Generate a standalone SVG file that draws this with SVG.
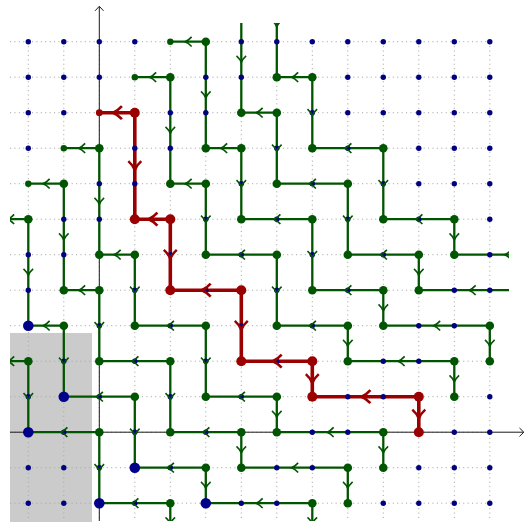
<svg xmlns="http://www.w3.org/2000/svg" width="525" height="522" viewBox="0 0 525 522">
<style>
.grid{fill:none;stroke:#a8a8a8;stroke-width:1;stroke-dasharray:1.1 3.3}
.axis{fill:none;stroke:#1a1a1a;stroke-width:1}
.e line{stroke:#005500;stroke-width:2.3}
.r line{stroke:#9b0000;stroke-width:3.6}
.ag{stroke:#005500;stroke-width:1.6;fill:none}
.ar{stroke:#9b0000;stroke-width:1.9;fill:none}
.n circle{fill:#000080}
.g{fill:#005500}
.rd{fill:#9b0000}
.b{fill:#00008b}
</style>
<defs>
<path id="ah" d="M-3.6,-4.8 Q-0.6,-1.4 3,0 Q-0.6,1.4 -3.6,4.8"/>
<clipPath id="clip"><rect x="10" y="23" width="499" height="498"/></clipPath>
</defs>
<rect x="10" y="333" width="82" height="189" fill="#cbcbcb"/>
<path class="grid" d="M10,41.7H489.8M10,77.2H489.8M10,112.7H489.8M10,148.2H489.8M10,183.7H489.8M10,219.2H489.8M10,254.7H489.8M10,290.2H489.8M10,325.7H489.8M10,361.2H489.8M10,396.7H489.8M10,432.2H489.8M10,467.7H489.8M10,503.2H489.8M28.3,41.7V521M63.8,41.7V521M99.3,41.7V521M134.8,41.7V521M170.3,41.7V521M205.8,41.7V521M241.3,41.7V521M276.8,41.7V521M312.3,41.7V521M347.8,41.7V521M383.3,41.7V521M418.8,41.7V521M454.3,41.7V521M489.8,41.7V521"/>
<g id="axes">
<path class="axis" d="M10,432.2H523.5M99.3,521V6.5"/>
<path class="axis" d="M519.5,428 L523.8,432.2 L519.5,436.4M95.1,10.8 L99.3,6.3 L103.5,10.8"/>
</g>
<g id="connectors" clip-path="url(#clip)">
<g class="e">
<line x1="205.8" y1="41.7" x2="170.3" y2="41.7"/>
<line x1="205.8" y1="41.7" x2="205.8" y2="148.2"/>
<line x1="241.3" y1="148.2" x2="205.8" y2="148.2"/>
<line x1="241.3" y1="148.2" x2="241.3" y2="219.2"/>
<line x1="312.3" y1="219.2" x2="241.3" y2="219.2"/>
<line x1="312.3" y1="219.2" x2="312.3" y2="290.2"/>
<line x1="383.3" y1="290.2" x2="312.3" y2="290.2"/>
<line x1="383.3" y1="290.2" x2="383.3" y2="325.7"/>
<line x1="489.8" y1="325.7" x2="383.3" y2="325.7"/>
<line x1="489.8" y1="325.7" x2="489.8" y2="361.2"/>
<line x1="170.3" y1="77.2" x2="134.8" y2="77.2"/>
<line x1="170.3" y1="77.2" x2="170.3" y2="183.7"/>
<line x1="205.8" y1="183.7" x2="170.3" y2="183.7"/>
<line x1="205.8" y1="183.7" x2="205.8" y2="254.7"/>
<line x1="276.8" y1="254.7" x2="205.8" y2="254.7"/>
<line x1="276.8" y1="254.7" x2="276.8" y2="325.7"/>
<line x1="347.8" y1="325.7" x2="276.8" y2="325.7"/>
<line x1="347.8" y1="325.7" x2="347.8" y2="361.2"/>
<line x1="454.3" y1="361.2" x2="347.8" y2="361.2"/>
<line x1="454.3" y1="361.2" x2="454.3" y2="396.7"/>
<line x1="99.3" y1="148.2" x2="63.8" y2="148.2"/>
<line x1="99.3" y1="148.2" x2="99.3" y2="254.7"/>
<line x1="134.8" y1="254.7" x2="99.3" y2="254.7"/>
<line x1="134.8" y1="254.7" x2="134.8" y2="325.7"/>
<line x1="205.8" y1="325.7" x2="134.8" y2="325.7"/>
<line x1="205.8" y1="325.7" x2="205.8" y2="396.7"/>
<line x1="276.8" y1="396.7" x2="205.8" y2="396.7"/>
<line x1="276.8" y1="396.7" x2="276.8" y2="432.2"/>
<line x1="383.3" y1="432.2" x2="276.8" y2="432.2"/>
<line x1="383.3" y1="432.2" x2="383.3" y2="467.7"/>
<line x1="63.8" y1="183.7" x2="28.3" y2="183.7"/>
<line x1="63.8" y1="183.7" x2="63.8" y2="290.2"/>
<line x1="99.3" y1="290.2" x2="63.8" y2="290.2"/>
<line x1="99.3" y1="290.2" x2="99.3" y2="361.2"/>
<line x1="170.3" y1="361.2" x2="99.3" y2="361.2"/>
<line x1="170.3" y1="361.2" x2="170.3" y2="432.2"/>
<line x1="241.3" y1="432.2" x2="170.3" y2="432.2"/>
<line x1="241.3" y1="432.2" x2="241.3" y2="467.7"/>
<line x1="347.8" y1="467.7" x2="241.3" y2="467.7"/>
<line x1="347.8" y1="467.7" x2="347.8" y2="503.2"/>
<line x1="28.3" y1="219.2" x2="-7.2" y2="219.2"/>
<line x1="28.3" y1="219.2" x2="28.3" y2="325.7"/>
<line x1="63.8" y1="325.7" x2="28.3" y2="325.7"/>
<line x1="63.8" y1="325.7" x2="63.8" y2="396.7"/>
<line x1="134.8" y1="396.7" x2="63.8" y2="396.7"/>
<line x1="134.8" y1="396.7" x2="134.8" y2="467.7"/>
<line x1="205.8" y1="467.7" x2="134.8" y2="467.7"/>
<line x1="205.8" y1="467.7" x2="205.8" y2="503.2"/>
<line x1="312.3" y1="503.2" x2="205.8" y2="503.2"/>
<line x1="312.3" y1="503.2" x2="312.3" y2="538.7"/>
<line x1="28.3" y1="361.2" x2="-7.2" y2="361.2"/>
<line x1="28.3" y1="361.2" x2="28.3" y2="432.2"/>
<line x1="99.3" y1="432.2" x2="28.3" y2="432.2"/>
<line x1="99.3" y1="432.2" x2="99.3" y2="503.2"/>
<line x1="170.3" y1="503.2" x2="99.3" y2="503.2"/>
<line x1="170.3" y1="503.2" x2="170.3" y2="538.7"/>
<line x1="241.3" y1="6.2" x2="241.3" y2="112.7"/>
<line x1="276.8" y1="112.7" x2="241.3" y2="112.7"/>
<line x1="276.8" y1="112.7" x2="276.8" y2="183.7"/>
<line x1="347.8" y1="183.7" x2="276.8" y2="183.7"/>
<line x1="347.8" y1="183.7" x2="347.8" y2="254.7"/>
<line x1="418.8" y1="254.7" x2="347.8" y2="254.7"/>
<line x1="418.8" y1="254.7" x2="418.8" y2="290.2"/>
<line x1="525.3" y1="290.2" x2="418.8" y2="290.2"/>
<line x1="276.8" y1="-29.3" x2="276.8" y2="77.2"/>
<line x1="312.3" y1="77.2" x2="276.8" y2="77.2"/>
<line x1="312.3" y1="77.2" x2="312.3" y2="148.2"/>
<line x1="383.3" y1="148.2" x2="312.3" y2="148.2"/>
<line x1="383.3" y1="148.2" x2="383.3" y2="219.2"/>
<line x1="454.3" y1="219.2" x2="383.3" y2="219.2"/>
<line x1="454.3" y1="219.2" x2="454.3" y2="254.7"/>
<line x1="560.8" y1="254.7" x2="454.3" y2="254.7"/>
</g>
<g class="r">
<line x1="134.8" y1="112.7" x2="99.3" y2="112.7"/>
<line x1="134.8" y1="112.7" x2="134.8" y2="219.2"/>
<line x1="170.3" y1="219.2" x2="134.8" y2="219.2"/>
<line x1="170.3" y1="219.2" x2="170.3" y2="290.2"/>
<line x1="241.3" y1="290.2" x2="170.3" y2="290.2"/>
<line x1="241.3" y1="290.2" x2="241.3" y2="361.2"/>
<line x1="312.3" y1="361.2" x2="241.3" y2="361.2"/>
<line x1="312.3" y1="361.2" x2="312.3" y2="396.7"/>
<line x1="418.8" y1="396.7" x2="312.3" y2="396.7"/>
<line x1="418.8" y1="396.7" x2="418.8" y2="432.2"/>
</g>
</g>
<g id="lattice" class="n">
<circle cx="28.3" cy="41.7" r="2.7"/><circle cx="63.8" cy="41.7" r="2.7"/><circle cx="99.3" cy="41.7" r="2.7"/><circle cx="134.8" cy="41.7" r="2.7"/><circle cx="241.3" cy="41.7" r="2.7"/><circle cx="276.8" cy="41.7" r="2.7"/><circle cx="312.3" cy="41.7" r="2.7"/><circle cx="347.8" cy="41.7" r="2.7"/><circle cx="383.3" cy="41.7" r="2.7"/><circle cx="418.8" cy="41.7" r="2.7"/><circle cx="454.3" cy="41.7" r="2.7"/><circle cx="489.8" cy="41.7" r="2.7"/>
<circle cx="28.3" cy="77.2" r="2.7"/><circle cx="63.8" cy="77.2" r="2.7"/><circle cx="99.3" cy="77.2" r="2.7"/><circle cx="205.8" cy="77.2" r="2.7"/><circle cx="241.3" cy="77.2" r="2.7"/><circle cx="347.8" cy="77.2" r="2.7"/><circle cx="383.3" cy="77.2" r="2.7"/><circle cx="418.8" cy="77.2" r="2.7"/><circle cx="454.3" cy="77.2" r="2.7"/><circle cx="489.8" cy="77.2" r="2.7"/>
<circle cx="28.3" cy="112.7" r="2.7"/><circle cx="63.8" cy="112.7" r="2.7"/><circle cx="170.3" cy="112.7" r="2.7"/><circle cx="205.8" cy="112.7" r="2.7"/><circle cx="312.3" cy="112.7" r="2.7"/><circle cx="347.8" cy="112.7" r="2.7"/><circle cx="383.3" cy="112.7" r="2.7"/><circle cx="418.8" cy="112.7" r="2.7"/><circle cx="454.3" cy="112.7" r="2.7"/><circle cx="489.8" cy="112.7" r="2.7"/>
<circle cx="28.3" cy="148.2" r="2.7"/><circle cx="134.8" cy="148.2" r="2.7"/><circle cx="170.3" cy="148.2" r="2.7"/><circle cx="276.8" cy="148.2" r="2.7"/><circle cx="347.8" cy="148.2" r="2.7"/><circle cx="418.8" cy="148.2" r="2.7"/><circle cx="454.3" cy="148.2" r="2.7"/><circle cx="489.8" cy="148.2" r="2.7"/>
<circle cx="99.3" cy="183.7" r="2.7"/><circle cx="134.8" cy="183.7" r="2.7"/><circle cx="241.3" cy="183.7" r="2.7"/><circle cx="312.3" cy="183.7" r="2.7"/><circle cx="383.3" cy="183.7" r="2.7"/><circle cx="418.8" cy="183.7" r="2.7"/><circle cx="454.3" cy="183.7" r="2.7"/><circle cx="489.8" cy="183.7" r="2.7"/>
<circle cx="63.8" cy="219.2" r="2.7"/><circle cx="99.3" cy="219.2" r="2.7"/><circle cx="205.8" cy="219.2" r="2.7"/><circle cx="276.8" cy="219.2" r="2.7"/><circle cx="347.8" cy="219.2" r="2.7"/><circle cx="418.8" cy="219.2" r="2.7"/><circle cx="489.8" cy="219.2" r="2.7"/>
<circle cx="28.3" cy="254.7" r="2.7"/><circle cx="63.8" cy="254.7" r="2.7"/><circle cx="170.3" cy="254.7" r="2.7"/><circle cx="241.3" cy="254.7" r="2.7"/><circle cx="312.3" cy="254.7" r="2.7"/><circle cx="383.3" cy="254.7" r="2.7"/><circle cx="489.8" cy="254.7" r="2.7"/>
<circle cx="28.3" cy="290.2" r="2.7"/><circle cx="134.8" cy="290.2" r="2.7"/><circle cx="205.8" cy="290.2" r="2.7"/><circle cx="276.8" cy="290.2" r="2.7"/><circle cx="347.8" cy="290.2" r="2.7"/><circle cx="454.3" cy="290.2" r="2.7"/><circle cx="489.8" cy="290.2" r="2.7"/>
<circle cx="99.3" cy="325.7" r="2.7"/><circle cx="170.3" cy="325.7" r="2.7"/><circle cx="241.3" cy="325.7" r="2.7"/><circle cx="312.3" cy="325.7" r="2.7"/><circle cx="418.8" cy="325.7" r="2.7"/><circle cx="454.3" cy="325.7" r="2.7"/>
<circle cx="63.8" cy="361.2" r="2.7"/><circle cx="134.8" cy="361.2" r="2.7"/><circle cx="205.8" cy="361.2" r="2.7"/><circle cx="276.8" cy="361.2" r="2.7"/><circle cx="383.3" cy="361.2" r="2.7"/><circle cx="418.8" cy="361.2" r="2.7"/>
<circle cx="28.3" cy="396.7" r="2.7"/><circle cx="99.3" cy="396.7" r="2.7"/><circle cx="170.3" cy="396.7" r="2.7"/><circle cx="241.3" cy="396.7" r="2.7"/><circle cx="347.8" cy="396.7" r="2.7"/><circle cx="383.3" cy="396.7" r="2.7"/><circle cx="489.8" cy="396.7" r="2.7"/>
<circle cx="63.8" cy="432.2" r="2.7"/><circle cx="134.8" cy="432.2" r="2.7"/><circle cx="205.8" cy="432.2" r="2.7"/><circle cx="312.3" cy="432.2" r="2.7"/><circle cx="347.8" cy="432.2" r="2.7"/><circle cx="454.3" cy="432.2" r="2.7"/><circle cx="489.8" cy="432.2" r="2.7"/>
<circle cx="28.3" cy="467.7" r="2.7"/><circle cx="63.8" cy="467.7" r="2.7"/><circle cx="99.3" cy="467.7" r="2.7"/><circle cx="170.3" cy="467.7" r="2.7"/><circle cx="276.8" cy="467.7" r="2.7"/><circle cx="312.3" cy="467.7" r="2.7"/><circle cx="418.8" cy="467.7" r="2.7"/><circle cx="454.3" cy="467.7" r="2.7"/><circle cx="489.8" cy="467.7" r="2.7"/>
<circle cx="28.3" cy="503.2" r="2.7"/><circle cx="63.8" cy="503.2" r="2.7"/><circle cx="134.8" cy="503.2" r="2.7"/><circle cx="241.3" cy="503.2" r="2.7"/><circle cx="276.8" cy="503.2" r="2.7"/><circle cx="383.3" cy="503.2" r="2.7"/><circle cx="418.8" cy="503.2" r="2.7"/><circle cx="454.3" cy="503.2" r="2.7"/><circle cx="489.8" cy="503.2" r="2.7"/>
</g>
<g id="arrows" clip-path="url(#clip)">
<g class="ag">
<use href="#ah" transform="translate(188.05,41.7) rotate(180)"/>
<use href="#ah" transform="translate(223.55,148.2) rotate(180)"/>
<use href="#ah" transform="translate(276.8,219.2) rotate(180)"/>
<use href="#ah" transform="translate(347.8,290.2) rotate(180)"/>
<use href="#ah" transform="translate(436.55,325.7) rotate(180)"/>
<use href="#ah" transform="translate(152.55,77.2) rotate(180)"/>
<use href="#ah" transform="translate(188.05,183.7) rotate(180)"/>
<use href="#ah" transform="translate(241.3,254.7) rotate(180)"/>
<use href="#ah" transform="translate(312.3,325.7) rotate(180)"/>
<use href="#ah" transform="translate(401.05,361.2) rotate(180)"/>
<use href="#ah" transform="translate(81.55,148.2) rotate(180)"/>
<use href="#ah" transform="translate(117.05,254.7) rotate(180)"/>
<use href="#ah" transform="translate(170.3,325.7) rotate(180)"/>
<use href="#ah" transform="translate(241.3,396.7) rotate(180)"/>
<use href="#ah" transform="translate(330.05,432.2) rotate(180)"/>
<use href="#ah" transform="translate(46.05,183.7) rotate(180)"/>
<use href="#ah" transform="translate(81.55,290.2) rotate(180)"/>
<use href="#ah" transform="translate(134.8,361.2) rotate(180)"/>
<use href="#ah" transform="translate(205.8,432.2) rotate(180)"/>
<use href="#ah" transform="translate(294.55,467.7) rotate(180)"/>
<use href="#ah" transform="translate(10.55,219.2) rotate(180)"/>
<use href="#ah" transform="translate(46.05,325.7) rotate(180)"/>
<use href="#ah" transform="translate(99.3,396.7) rotate(180)"/>
<use href="#ah" transform="translate(170.3,467.7) rotate(180)"/>
<use href="#ah" transform="translate(259.05,503.2) rotate(180)"/>
<use href="#ah" transform="translate(10.55,361.2) rotate(180)"/>
<use href="#ah" transform="translate(63.8,432.2) rotate(180)"/>
<use href="#ah" transform="translate(134.8,503.2) rotate(180)"/>
<use href="#ah" transform="translate(259.05,112.7) rotate(180)"/>
<use href="#ah" transform="translate(312.3,183.7) rotate(180)"/>
<use href="#ah" transform="translate(383.3,254.7) rotate(180)"/>
<use href="#ah" transform="translate(472.05,290.2) rotate(180)"/>
<use href="#ah" transform="translate(294.55,77.2) rotate(180)"/>
<use href="#ah" transform="translate(347.8,148.2) rotate(180)"/>
<use href="#ah" transform="translate(418.8,219.2) rotate(180)"/>
<use href="#ah" transform="translate(507.55,254.7) rotate(180)"/>
<use href="#ah" transform="translate(205.8,94.95) rotate(90)"/>
<use href="#ah" transform="translate(241.3,183.7) rotate(90)"/>
<use href="#ah" transform="translate(312.3,254.7) rotate(90)"/>
<use href="#ah" transform="translate(383.3,307.95) rotate(90)"/>
<use href="#ah" transform="translate(489.8,343.45) rotate(90)"/>
<use href="#ah" transform="translate(170.3,130.45) rotate(90)"/>
<use href="#ah" transform="translate(205.8,219.2) rotate(90)"/>
<use href="#ah" transform="translate(276.8,290.2) rotate(90)"/>
<use href="#ah" transform="translate(347.8,343.45) rotate(90)"/>
<use href="#ah" transform="translate(454.3,378.95) rotate(90)"/>
<use href="#ah" transform="translate(99.3,201.45) rotate(90)"/>
<use href="#ah" transform="translate(134.8,290.2) rotate(90)"/>
<use href="#ah" transform="translate(205.8,361.2) rotate(90)"/>
<use href="#ah" transform="translate(276.8,414.45) rotate(90)"/>
<use href="#ah" transform="translate(383.3,449.95) rotate(90)"/>
<use href="#ah" transform="translate(63.8,236.95) rotate(90)"/>
<use href="#ah" transform="translate(99.3,325.7) rotate(90)"/>
<use href="#ah" transform="translate(170.3,396.7) rotate(90)"/>
<use href="#ah" transform="translate(241.3,449.95) rotate(90)"/>
<use href="#ah" transform="translate(347.8,485.45) rotate(90)"/>
<use href="#ah" transform="translate(28.3,272.45) rotate(90)"/>
<use href="#ah" transform="translate(63.8,361.2) rotate(90)"/>
<use href="#ah" transform="translate(134.8,432.2) rotate(90)"/>
<use href="#ah" transform="translate(205.8,485.45) rotate(90)"/>
<use href="#ah" transform="translate(312.3,520.95) rotate(90)"/>
<use href="#ah" transform="translate(28.3,396.7) rotate(90)"/>
<use href="#ah" transform="translate(99.3,467.7) rotate(90)"/>
<use href="#ah" transform="translate(170.3,520.95) rotate(90)"/>
<use href="#ah" transform="translate(241.3,59.45) rotate(90)"/>
<use href="#ah" transform="translate(276.8,148.2) rotate(90)"/>
<use href="#ah" transform="translate(347.8,219.2) rotate(90)"/>
<use href="#ah" transform="translate(418.8,272.45) rotate(90)"/>
<use href="#ah" transform="translate(276.8,23.95) rotate(90)"/>
<use href="#ah" transform="translate(312.3,112.7) rotate(90)"/>
<use href="#ah" transform="translate(383.3,183.7) rotate(90)"/>
<use href="#ah" transform="translate(454.3,236.95) rotate(90)"/>
</g>
<g class="ar">
<use href="#ah" transform="translate(117.05,112.7) rotate(180) scale(1.35)"/>
<use href="#ah" transform="translate(152.55,219.2) rotate(180) scale(1.35)"/>
<use href="#ah" transform="translate(205.8,290.2) rotate(180) scale(1.35)"/>
<use href="#ah" transform="translate(276.8,361.2) rotate(180) scale(1.35)"/>
<use href="#ah" transform="translate(365.55,396.7) rotate(180) scale(1.35)"/>
<use href="#ah" transform="translate(134.8,165.95) rotate(90) scale(1.35)"/>
<use href="#ah" transform="translate(170.3,254.7) rotate(90) scale(1.35)"/>
<use href="#ah" transform="translate(241.3,325.7) rotate(90) scale(1.35)"/>
<use href="#ah" transform="translate(312.3,378.95) rotate(90) scale(1.35)"/>
<use href="#ah" transform="translate(418.8,414.45) rotate(90) scale(1.35)"/>
</g>
</g>
<g id="nodes">
<g id="n4-0"><circle class="g" cx="170.3" cy="41.7" r="3.2"/></g>
<g id="n3-1"><circle class="g" cx="134.8" cy="77.2" r="3.2"/></g>
<g id="n2-2"><circle class="rd" cx="99.3" cy="112.7" r="3.4"/></g>
<g id="n1-3"><circle class="g" cx="63.8" cy="148.2" r="3.2"/></g>
<g id="n0-4"><circle class="g" cx="28.3" cy="183.7" r="3.2"/></g>
<g id="n5-0"><circle class="g" cx="205.8" cy="41.7" r="4.3"/></g>
<g id="n5-3"><circle class="g" cx="205.8" cy="148.2" r="4.3"/></g>
<g id="n6-3"><circle class="g" cx="241.3" cy="148.2" r="4.3"/></g>
<g id="n6-5"><circle class="g" cx="241.3" cy="219.2" r="4.3"/></g>
<g id="n8-5"><circle class="g" cx="312.3" cy="219.2" r="4.3"/></g>
<g id="n8-7"><circle class="g" cx="312.3" cy="290.2" r="4.3"/></g>
<g id="n10-7"><circle class="g" cx="383.3" cy="290.2" r="4.3"/></g>
<g id="n10-8"><circle class="g" cx="383.3" cy="325.7" r="4.3"/></g>
<g id="n13-8"><circle class="g" cx="489.8" cy="325.7" r="4.3"/></g>
<g id="n13-9"><circle class="g" cx="489.8" cy="361.2" r="4.3"/></g>
<g id="n4-1"><circle class="g" cx="170.3" cy="77.2" r="4.3"/></g>
<g id="n4-4"><circle class="g" cx="170.3" cy="183.7" r="4.3"/></g>
<g id="n5-4"><circle class="g" cx="205.8" cy="183.7" r="4.3"/></g>
<g id="n5-6"><circle class="g" cx="205.8" cy="254.7" r="4.3"/></g>
<g id="n7-6"><circle class="g" cx="276.8" cy="254.7" r="4.3"/></g>
<g id="n7-8"><circle class="g" cx="276.8" cy="325.7" r="4.3"/></g>
<g id="n9-8"><circle class="g" cx="347.8" cy="325.7" r="4.3"/></g>
<g id="n9-9"><circle class="g" cx="347.8" cy="361.2" r="4.3"/></g>
<g id="n12-9"><circle class="g" cx="454.3" cy="361.2" r="4.3"/></g>
<g id="n12-10"><circle class="g" cx="454.3" cy="396.7" r="4.3"/></g>
<g id="n2-3"><circle class="g" cx="99.3" cy="148.2" r="4.3"/></g>
<g id="n2-6"><circle class="g" cx="99.3" cy="254.7" r="4.3"/></g>
<g id="n3-6"><circle class="g" cx="134.8" cy="254.7" r="4.3"/></g>
<g id="n3-8"><circle class="g" cx="134.8" cy="325.7" r="4.3"/></g>
<g id="n5-8"><circle class="g" cx="205.8" cy="325.7" r="4.3"/></g>
<g id="n5-10"><circle class="g" cx="205.8" cy="396.7" r="4.3"/></g>
<g id="n7-10"><circle class="g" cx="276.8" cy="396.7" r="4.3"/></g>
<g id="n7-11"><circle class="g" cx="276.8" cy="432.2" r="4.3"/></g>
<g id="n10-11"><circle class="g" cx="383.3" cy="432.2" r="4.3"/></g>
<g id="n10-12"><circle class="g" cx="383.3" cy="467.7" r="4.3"/></g>
<g id="n1-4"><circle class="g" cx="63.8" cy="183.7" r="4.3"/></g>
<g id="n1-7"><circle class="g" cx="63.8" cy="290.2" r="4.3"/></g>
<g id="n2-7"><circle class="g" cx="99.3" cy="290.2" r="4.3"/></g>
<g id="n2-9"><circle class="g" cx="99.3" cy="361.2" r="4.3"/></g>
<g id="n4-9"><circle class="g" cx="170.3" cy="361.2" r="4.3"/></g>
<g id="n4-11"><circle class="g" cx="170.3" cy="432.2" r="4.3"/></g>
<g id="n6-11"><circle class="g" cx="241.3" cy="432.2" r="4.3"/></g>
<g id="n6-12"><circle class="g" cx="241.3" cy="467.7" r="4.3"/></g>
<g id="n9-12"><circle class="g" cx="347.8" cy="467.7" r="4.3"/></g>
<g id="n9-13"><circle class="g" cx="347.8" cy="503.2" r="4.3"/></g>
<g id="n0-5"><circle class="g" cx="28.3" cy="219.2" r="4.3"/></g>
<g id="n1-8"><circle class="g" cx="63.8" cy="325.7" r="4.3"/></g>
<g id="n3-10"><circle class="g" cx="134.8" cy="396.7" r="4.3"/></g>
<g id="n5-12"><circle class="g" cx="205.8" cy="467.7" r="4.3"/></g>
<g id="n8-13"><circle class="g" cx="312.3" cy="503.2" r="4.3"/></g>
<g id="n0-9"><circle class="g" cx="28.3" cy="361.2" r="4.3"/></g>
<g id="n2-11"><circle class="g" cx="99.3" cy="432.2" r="4.3"/></g>
<g id="n4-13"><circle class="g" cx="170.3" cy="503.2" r="4.3"/></g>
<g id="n6-2"><circle class="g" cx="241.3" cy="112.7" r="4.3"/></g>
<g id="n7-2"><circle class="g" cx="276.8" cy="112.7" r="4.3"/></g>
<g id="n7-4"><circle class="g" cx="276.8" cy="183.7" r="4.3"/></g>
<g id="n9-4"><circle class="g" cx="347.8" cy="183.7" r="4.3"/></g>
<g id="n9-6"><circle class="g" cx="347.8" cy="254.7" r="4.3"/></g>
<g id="n11-6"><circle class="g" cx="418.8" cy="254.7" r="4.3"/></g>
<g id="n11-7"><circle class="g" cx="418.8" cy="290.2" r="4.3"/></g>
<g id="n7-1"><circle class="g" cx="276.8" cy="77.2" r="4.3"/></g>
<g id="n8-1"><circle class="g" cx="312.3" cy="77.2" r="4.3"/></g>
<g id="n8-3"><circle class="g" cx="312.3" cy="148.2" r="4.3"/></g>
<g id="n10-3"><circle class="g" cx="383.3" cy="148.2" r="4.3"/></g>
<g id="n10-5"><circle class="g" cx="383.3" cy="219.2" r="4.3"/></g>
<g id="n12-5"><circle class="g" cx="454.3" cy="219.2" r="4.3"/></g>
<g id="n12-6"><circle class="g" cx="454.3" cy="254.7" r="4.3"/></g>
<g id="n3-2"><circle class="rd" cx="134.8" cy="112.7" r="5"/></g>
<g id="n3-5"><circle class="rd" cx="134.8" cy="219.2" r="5"/></g>
<g id="n4-5"><circle class="rd" cx="170.3" cy="219.2" r="5"/></g>
<g id="n4-7"><circle class="rd" cx="170.3" cy="290.2" r="5"/></g>
<g id="n6-7"><circle class="rd" cx="241.3" cy="290.2" r="5"/></g>
<g id="n6-9"><circle class="rd" cx="241.3" cy="361.2" r="5"/></g>
<g id="n8-9"><circle class="rd" cx="312.3" cy="361.2" r="5"/></g>
<g id="n8-10"><circle class="rd" cx="312.3" cy="396.7" r="5"/></g>
<g id="n11-10"><circle class="rd" cx="418.8" cy="396.7" r="5"/></g>
<g id="n11-11"><circle class="rd" cx="418.8" cy="432.2" r="5"/></g>
<g id="n0-8"><circle class="b" cx="28.3" cy="325.7" r="5.3"/></g>
<g id="n1-10"><circle class="b" cx="63.8" cy="396.7" r="5.3"/></g>
<g id="n0-11"><circle class="b" cx="28.3" cy="432.2" r="5.3"/></g>
<g id="n3-12"><circle class="b" cx="134.8" cy="467.7" r="5.3"/></g>
<g id="n2-13"><circle class="b" cx="99.3" cy="503.2" r="5.3"/></g>
<g id="n5-13"><circle class="b" cx="205.8" cy="503.2" r="5.3"/></g>
</g>
</svg>
